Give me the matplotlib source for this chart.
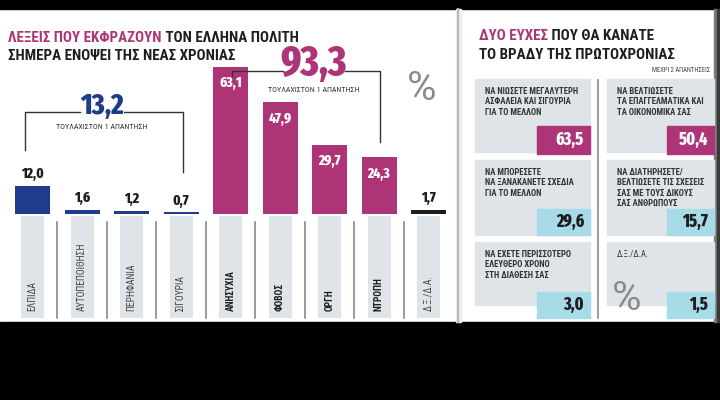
import matplotlib
matplotlib.use('Agg')
import matplotlib.pyplot as plt
from matplotlib.patches import Rectangle

# ---------------- data ----------------
words = ["ΕΛΠΙΔΑ", "ΑΥΤΟΠΕΠΟΙΘΗΣΗ", "ΠΕΡΗΦΑΝΙΑ", "ΣΙΓΟΥΡΙΑ",
         "ΑΝΗΣΥΧΙΑ", "ΦΟΒΟΣ", "ΟΡΓΗ", "ΝΤΡΟΠΗ", "Δ.Ξ./Δ.Α."]
word_values = [12.0, 1.6, 1.2, 0.7, 63.1, 47.9, 29.7, 24.3, 1.7]
word_group = ["pos", "pos", "pos", "pos", "neg", "neg", "neg", "neg", "na"]
group_totals = {"pos": 13.2, "neg": 93.3}
group_note = "ΤΟΥΛΑΧΙΣΤΟΝ 1 ΑΠΑΝΤΗΣΗ"

wishes = ["ΝΑ ΝΙΩΣΕΤΕ ΜΕΓΑΛΥΤΕΡΗ\nΑΣΦΑΛΕΙΑ ΚΑΙ ΣΙΓΟΥΡΙΑ\nΓΙΑ ΤΟ ΜΕΛΛΟΝ",
          "ΝΑ ΒΕΛΤΙΩΣΕΤΕ\nΤΑ ΕΠΑΓΓΕΛΜΑΤΙΚΑ ΚΑΙ\nΤΑ ΟΙΚΟΝΟΜΙΚΑ ΣΑΣ",
          "ΝΑ ΜΠΟΡΕΣΕΤΕ\nΝΑ ΞΑΝΑΚΑΝΕΤΕ ΣΧΕΔΙΑ\nΓΙΑ ΤΟ ΜΕΛΛΟΝ",
          "ΝΑ ΔΙΑΤΗΡΗΣΕΤΕ/\nΒΕΛΤΙΩΣΕΤΕ ΤΙΣ ΣΧΕΣΕΙΣ\nΣΑΣ ΜΕ ΤΟΥΣ ΔΙΚΟΥΣ\nΣΑΣ ΑΝΘΡΩΠΟΥΣ",
          "ΝΑ ΕΧΕΤΕ ΠΕΡΙΣΣΟΤΕΡΟ\nΕΛΕΥΘΕΡΟ ΧΡΟΝΟ\nΣΤΗ ΔΙΑΘΕΣΗ ΣΑΣ",
          "Δ.Ξ./Δ.Α."]
wish_values = [63.5, 50.4, 29.6, 15.7, 3.0, 1.5]
wish_top = [True, True, False, False, False, False]

title_left_a = "ΛΕΞΕΙΣ ΠΟΥ ΕΚΦΡΑΖΟΥΝ"
title_left_b = " ΤΟΝ ΕΛΛΗΝΑ ΠΟΛΙΤΗ"
title_left_2 = "ΣΗΜΕΡΑ ΕΝΟΨΕΙ ΤΗΣ ΝΕΑΣ ΧΡΟΝΙΑΣ"
title_right_a = "ΔΥΟ ΕΥΧΕΣ"
title_right_b = " ΠΟΥ ΘΑ ΚΑΝΑΤΕ"
title_right_2 = "ΤΟ ΒΡΑΔΥ ΤΗΣ ΠΡΩΤΟΧΡΟΝΙΑΣ"
right_note = "ΜΕΧΡΙ 2 ΑΠΑΝΤΗΣΕΙΣ"

# ---------------- style ----------------
MAG = '#ad3577'
BLUE = '#1f3b8c'
DARK = '#1e1e1e'
LGRAY = '#dfe4e8'
CYAN = '#a7dbe8'
TF = ['Roboto Condensed', 'DejaVu Sans']
NF = ['Fira Sans Extra Condensed', 'Roboto Condensed', 'DejaVu Sans']
LF = ['Roboto', 'DejaVu Sans']
plt.rcParams['font.family'] = TF

def fmt(v):
    return f"{v:.1f}".replace('.', ',')

W, H = 720, 400
fig = plt.figure(figsize=(7.2, 4.0), dpi=100, facecolor='white')

bg = fig.add_axes([0, 0, 1, 1], zorder=0)
bg.set_xlim(0, W); bg.set_ylim(H, 0); bg.axis('off')
bg.add_patch(Rectangle((0, 0), W, 9, color='black'))
bg.add_patch(Rectangle((0, 322), W, 78, color='black'))
bg.add_patch(Rectangle((714, 9), 3, 313, color='#7a7a7a'))
bg.add_patch(Rectangle((717, 9), 3, 313, color='#3a3a3a'))
bg.add_patch(Rectangle((456, 9), 5, 313, color='#ececec'))
bg.plot([458, 458], [9, 322], color='#b8b8b8', lw=1.5)

# titles
TS = 10.8
t1 = bg.text(8, 45, title_left_a, color=MAG, fontsize=TS, fontweight='bold', va='bottom')
bg.annotate(title_left_b, xy=(1, 0), xycoords=t1, color=DARK, fontsize=TS, fontweight='bold', va='bottom')
bg.text(8, 63, title_left_2, color=DARK, fontsize=TS, fontweight='bold', va='bottom')
t2 = bg.text(479, 43, title_right_a, color=MAG, fontsize=TS, fontweight='bold', va='bottom')
bg.annotate(title_right_b, xy=(1, 0), xycoords=t2, color=DARK, fontsize=TS, fontweight='bold', va='bottom')
bg.text(479, 62, title_right_2, color=DARK, fontsize=TS, fontweight='bold', va='bottom')
bg.text(710, 70, right_note, color='#444444', fontsize=4.8, ha='right', va='center')

# ---------------- bar chart ----------------
PPU = 147 / 63.1
X0, Y0, STEP = 32.5, 214, 49.5
def xd(px): return (px - X0) / STEP
def yd(py): return (Y0 - py) / PPU

ax = fig.add_axes([7.75 / W, 1 - 320 / H, 445.5 / W, 310 / H], zorder=1)
ax.patch.set_alpha(0)
ax.set_xlim(-0.5, 8.5)
ax.set_ylim(yd(320), yd(10))
ax.axis('off')

gcol = {"pos": BLUE, "neg": MAG, "na": DARK}
xs = list(range(len(words)))
ax.bar(xs, word_values, width=35 / STEP, color=[gcol[g] for g in word_group], zorder=2)
ax.bar(xs, [yd(318) - yd(216)] * len(xs), bottom=yd(216), width=23 / STEP, color=LGRAY, zorder=1)
for i in range(len(xs) - 1):
    ax.plot([i + 0.5, i + 0.5], [yd(222), yd(318)], color='#8a8a8a', lw=1.2)

for i, (w, v, g) in enumerate(zip(words, word_values, word_group)):
    ax.text(i, yd(311), w, rotation=90, ha='center', va='bottom', fontsize=6.9,
            color=DARK if g == 'neg' else '#444444',
            fontweight='bold' if g == 'neg' else 'normal')
    if g == 'neg':
        ax.annotate(fmt(v), (i, v), xytext=(0, -6.5), textcoords='offset points',
                    ha='center', va='top', color='white', fontsize=10.5, fontweight=800,
                    family=NF)
    else:
        ax.annotate(fmt(v), (i, v), xytext=(0, 3.5), textcoords='offset points',
                    ha='center', va='bottom', color=DARK, fontsize=10.5, fontweight=800,
                    family=NF)

# brackets
def bracket(xl, xr, yh, yl_end, yr_end, gap_l, gap_r, color, total, tx, ty, tsize, ny):
    ax.plot([xd(xl), xd(xl), xd(gap_l)], [yd(yl_end), yd(yh), yd(yh)], color='#333333', lw=1)
    ax.plot([xd(gap_r), xd(xr), xd(xr)], [yd(yh), yd(yh), yd(yr_end)], color='#333333', lw=1)
    ax.text(xd(tx), yd(ty), fmt(total), ha='center', va='center', color=color,
            fontsize=tsize, fontweight=800, family=NF)
    ax.text(xd(tx), yd(ny), group_note, ha='center', va='center', color='#333333', fontsize=5.8)

bracket(25, 183, 112, 150, 172, 80, 124, BLUE, group_totals['pos'], 102, 106, 21, 127)
bracket(232, 380, 71, 76, 142, 283, 345, MAG, group_totals['neg'], 314, 64, 30, 90)

bg.text(422, 89, '%', ha='center', va='center', color='#8a8a8a', fontsize=29,
        fontweight='normal', family=LF)

# ---------------- right panel ----------------
cols = [(475, 590, 537), (607, 714, 667)]
rows = [(79, 152, 126, 154), (160, 235, 209, 235), (242, 305, 292, 318)]
for k, (txt, v, top) in enumerate(zip(wishes, wish_values, wish_top)):
    c0, c1, vx = cols[k % 2]
    r0, r1, v0, v1 = rows[k // 2]
    bg.add_patch(Rectangle((c0, r0), c1 - c0, r1 - r0, color=LGRAY))
    bg.add_patch(Rectangle((vx, v0), c1 - vx, v1 - v0, color=MAG if top else CYAN))
    bg.text(c0 + 10, r0 + 8, txt, ha='left', va='top', fontsize=6.2,
            fontweight='normal' if txt.startswith('Δ.') else 'bold',
            color='#333333', linespacing=1.2)
    bg.text(c1 - 6, (v0 + v1) / 2, fmt(v), ha='right', va='center', fontsize=12.5,
            fontweight=800, family=NF, color='white' if top else DARK)
bg.plot([598, 598], [80, 318], color='#8a8a8a', lw=1.2)
bg.text(627, 299, '%', ha='center', va='center', color='#8a8a8a', fontsize=29,
        fontweight='normal', family=LF)

fig.savefig('out.png', dpi=100, facecolor='white')
